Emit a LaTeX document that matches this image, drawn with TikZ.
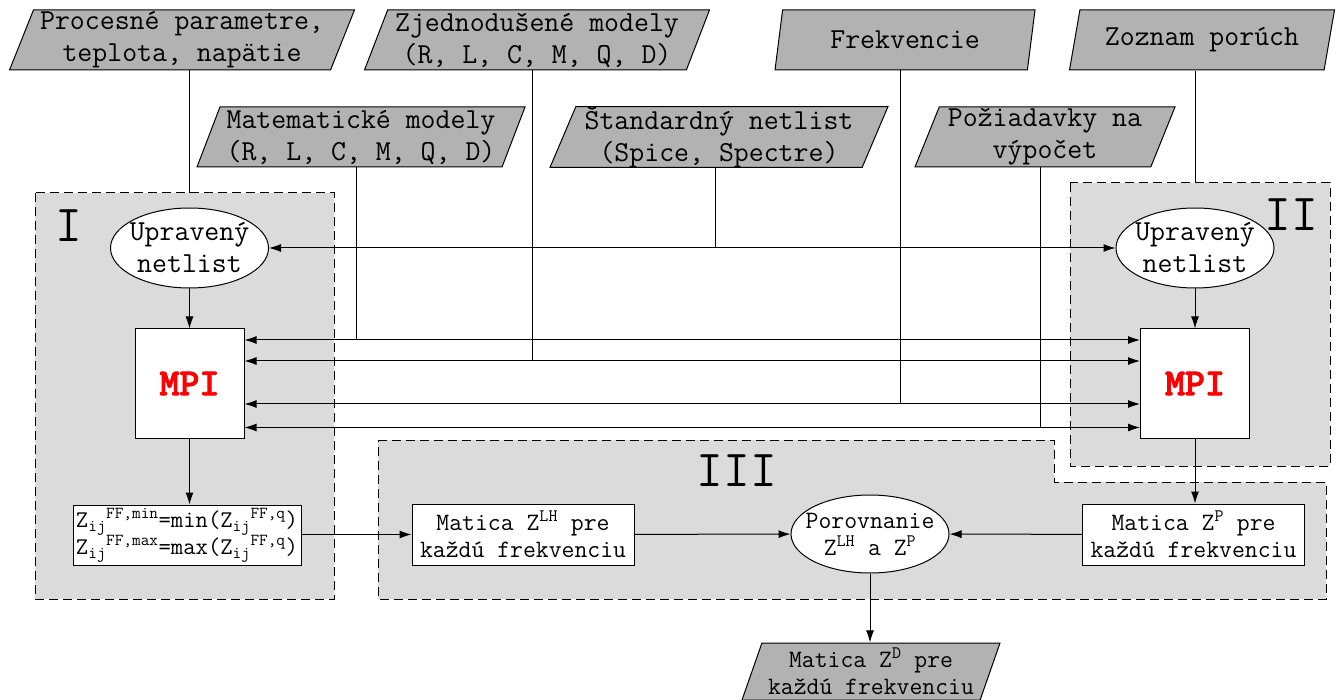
\documentclass[tikz,border=0pt]{standalone}
\usepackage{fontspec}
\newfontfamily\mpipismo[FakeBold=2.5]{lmmonolt10-bold.otf}
\usepackage{tikz}
\usetikzlibrary{shapes.geometric,arrows.meta}
\definecolor{cVstup}{gray}{0.70}
\definecolor{cOblast}{gray}{0.86}
\definecolor{cMPI}{RGB}{255,0,0}

\tikzset{
  vstup/.style={trapezium, draw, fill=cVstup, line width=1pt,
    trapezium left angle=67, trapezium right angle=113,
    trapezium stretches body, minimum height=60, inner sep=0pt, align=center},
  oblast/.style={draw, fill=cOblast, line width=1pt, dash pattern=on 9pt off 5pt},
  oznaka/.style={font=\ttfamily\fontsize{52}{52}\selectfont, inner sep=0pt},
  netl/.style={ellipse, draw, fill=white, line width=1pt, align=center,
    minimum width=158, minimum height=80, inner xsep=-7pt, inner ysep=-2pt},
  mpi/.style={draw, fill=white, line width=1pt, minimum size=109,
    text=cMPI, font=\mpipismo\fontsize{38}{38}\selectfont},
  blok/.style={draw, fill=white, line width=1pt, align=center,
    font=\ttfamily\fontsize{25}{27}\selectfont},
  porov/.style={ellipse, draw, fill=white, line width=1pt, align=center,
    minimum width=158, minimum height=78, inner xsep=-12pt, inner ysep=1pt,
    font=\ttfamily\fontsize{25}{27}\selectfont},
  sip/.style={line width=1pt, -{Latex[length=12pt,width=8pt]}},
  sip2/.style={line width=1pt, {Latex[length=12pt,width=8pt]}-{Latex[length=12pt,width=8pt]}}
}

\begin{document}
\begin{tikzpicture}[x=1pt,y=-1pt,font=\ttfamily\fontsize{29}{32}\selectfont]
\useasboundingbox (0,0) rectangle (1336,700);

% oblasti I, II, III
\path[oblast] (35,193) coordinate (oI) rectangle (334,599);
\path[oblast] (1070,183) coordinate (oII) rectangle (1330,466);
\path[oblast] (378,440) -- (1054,440) -- (1054,482) -- (1326,482) -- (1326,599) -- (378,599) -- cycle;
\node[oznaka] (lI) at (69,226) {I};
\node[oznaka] (lII) at (1291,215) {II};
\node[oznaka] (lIII) at (737,471) {III};

% vstupy
\node[vstup, minimum width=345] (proc) at (182,40) {Procesné parametre,\\teplota, napätie};
\node[vstup, minimum width=345] (zjed) at (537,40) {Zjednodušené modely\\(R, L, C, M, Q, D)};
\node[vstup, minimum width=328] (mate) at (361,137) {Matematické modely\\(R, L, C, M, Q, D)};
\node[vstup, minimum width=338] (stan) at (719,137) {Štandardný netlist\\(Spice, Spectre)};
\node[vstup, minimum width=260] (frek) at (905,40) {Frekvencie};
\node[vstup, minimum width=260] (poz) at (1045,137) {Požiadavky na\\výpočet};
\node[vstup, minimum width=265] (porm) at (1202,40) {Zoznam porúch};

% simulacia
\node[netl] (netI) at (189.5,248) {Upravený\\netlist};
\node[netl] (netII) at (1195,248) {Upravený\\netlist};
\node[mpi] (mpiI) at (189.5,383.5) {MPI};
\node[mpi] (mpiII) at (1195,383.5) {MPI};

% vyhodnotenie
\node[blok, align=left, minimum width=228, minimum height=60, inner sep=2pt, font=\ttfamily\fontsize{24}{27}\selectfont] (vzor) at (187,535)
  {Z\textsubscript{ij}\textsuperscript{FF,min}=min(Z\textsubscript{ij}\textsuperscript{FF,q})\\
   Z\textsubscript{ij}\textsuperscript{FF,max}=max(Z\textsubscript{ij}\textsuperscript{FF,q})};
\node[blok, minimum width=222, minimum height=61] (zlh) at (523,534.5) {Matica Z\textsuperscript{LH} pre\\každú frekvenciu};
\node[porov] (por) at (870,534) {Porovnanie\\Z\textsuperscript{LH} a Z\textsuperscript{P}};
\node[blok, minimum width=222, minimum height=61] (zp) at (1193.5,534.5) {Matica Z\textsuperscript{P} pre\\každú frekvenciu};
\node[vstup, minimum width=258, minimum height=57, font=\ttfamily\fontsize{25}{27}\selectfont] (zd) at (871,671.5) {Matica Z\textsuperscript{D} pre\\každú frekvenciu};

% spojenia
\draw[line width=1pt] (proc.south -| netI) -- (oI -| netI);
\draw[line width=1pt] (porm.south -| netII) -- (oII -| netII);
\draw[sip2] (netI) -- (netII);
\draw[line width=1pt] ([xshift=-4pt]stan.south) -- ([xshift=-4pt]stan.south |- netI);
\foreach \dy/\z in {43.5/mate, 22.5/zjed, -20.5/frek, -44/poz} {
  \coordinate (h\z) at ([yshift=\dy pt]mpiI.east);
  \coordinate (v\z) at ([xshift=-5pt]\z.south);
  \draw[sip2] (h\z) -- (h\z -| mpiII.west);
  \draw[line width=1pt] (v\z) -- (v\z |- h\z);
}
\draw[sip] (netI) -- (mpiI);
\draw[sip] (netII) -- (mpiII);
\draw[sip] (mpiI.south) -- (mpiI.south |- vzor.north);
\draw[sip] (mpiII.south) -- (mpiII.south |- zp.north);
\draw[sip] (vzor.east |- zlh) -- (zlh.west);
\draw[sip] (zlh) -- (por);
\draw[sip] (zp) -- (por);
\draw[sip] (por.south) -- (por.south |- zd.north);
\end{tikzpicture}
\end{document}
